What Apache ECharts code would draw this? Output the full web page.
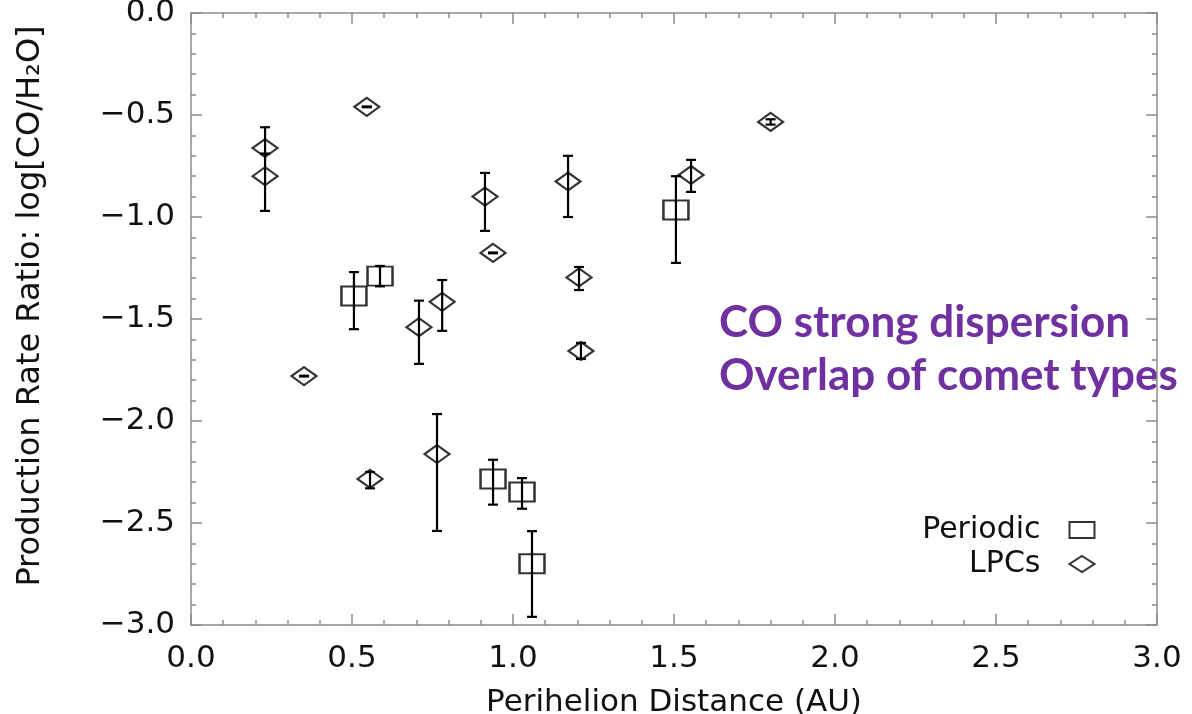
<!DOCTYPE html>
<html>
<head>
<meta charset="utf-8">
<title>CO/H2O production rate ratio vs perihelion distance</title>
<script src="https://cdn.jsdelivr.net/npm/echarts@6/dist/echarts.min.js"></script>
<style>
  html, body { margin: 0; padding: 0; background: #fff; }
  #chart { width: 1192px; height: 714px; }
</style>
</head>
<body>
<div id="chart"></div>
<script>
// Periodic comets (squares): perihelion distance, log ratio, error bar low / high
const periodicX    = [0.506, 0.587, 0.938, 1.028, 1.059, 1.506];
const periodicY    = [-1.387, -1.29, -2.284, -2.348, -2.70, -0.966];
const periodicLow  = [-1.55, -1.34, -2.41, -2.43, -2.96, -1.225];
const periodicHigh = [-1.27, -1.24, -2.19, -2.28, -2.54, -0.80];

// Long period comets (diamonds)
const lpcX    = [0.23, 0.23, 0.546, 0.351, 0.556, 0.708, 0.78, 0.764, 0.913, 0.938, 1.171, 1.205, 1.211, 1.553, 1.80];
const lpcY    = [-0.662, -0.80, -0.46, -1.78, -2.284, -1.54, -1.416, -2.162, -0.90, -1.176, -0.826, -1.296, -1.657, -0.794, -0.534];
const lpcLow  = [-0.69, -0.97, -0.462, -1.782, -2.33, -1.72, -1.558, -2.539, -1.068, -1.178, -1.00, -1.358, -1.696, -0.877, -0.547];
const lpcHigh = [-0.56, -0.69, -0.458, -1.778, -2.25, -1.41, -1.309, -1.966, -0.784, -1.174, -0.70, -1.245, -1.617, -0.72, -0.521];

const seriesNames = ['Periodic', 'LPCs'];
const noteLines = ['CO strong dispersion', 'Overlap of comet types'];

const axisFont = 'DejaVu Sans';
const frameColor = '#8c8c8c';

function points(xs, ys) {
    return xs.map((x, i) => [x, ys[i]]);
}
function bars(xs, lo, hi) {
    return xs.map((x, i) => [x, lo[i], hi[i]]);
}

// draws a vertical error bar with small caps
function renderErrorBar(params, api) {
    const top = api.coord([api.value(0), api.value(2)]);
    const bottom = api.coord([api.value(0), api.value(1)]);
    const cap = 5;
    const style = { stroke: '#000', lineWidth: 2.2 };
    return {
        type: 'group',
        children: [
            { type: 'line', shape: { x1: top[0], y1: top[1], x2: bottom[0], y2: bottom[1] }, style: style },
            { type: 'line', shape: { x1: top[0] - cap, y1: top[1], x2: top[0] + cap, y2: top[1] }, style: style },
            { type: 'line', shape: { x1: bottom[0] - cap, y1: bottom[1], x2: bottom[0] + cap, y2: bottom[1] }, style: style }
        ]
    };
}

function yLabel(v) {
    if (Math.abs(v) < 1e-9) return '0.0';
    return '\u2212' + Math.abs(v).toFixed(1);
}

// ticks point into the plot on all four sides
const tickStyle = { show: true, inside: true, length: 11, lineStyle: { color: frameColor, width: 1.5 } };
const minorStyle = { show: true, splitNumber: 5, length: 5, lineStyle: { color: frameColor, width: 1.5 } };
const lineStyle = { show: true, onZero: false, lineStyle: { color: frameColor, width: 1.5 } };

const chart = echarts.init(document.getElementById('chart'), null, { renderer: 'canvas' });

const options = {
    animation: false,
    backgroundColor: '#fff',
    grid: { left: 191, top: 13, right: 35, bottom: 89, outerBoundsMode: 'none' },
    legend: {
        data: seriesNames,
        orient: 'vertical',
        align: 'right',
        right: 90,
        top: 510,
        itemWidth: 25,
        itemHeight: 16,
        itemGap: 4,
        textStyle: { fontFamily: axisFont, fontSize: 30, color: '#111', padding: [0, 24, 0, 0] }
    },
    xAxis: [
        {
            type: 'value', min: 0, max: 3, interval: 0.5, position: 'bottom',
            name: 'Perihelion Distance (AU)', nameLocation: 'middle', nameGap: 62,
            nameTextStyle: { fontFamily: axisFont, fontSize: 31, color: '#111' },
            axisLine: lineStyle, axisTick: tickStyle, minorTick: minorStyle,
            splitLine: { show: false },
            axisLabel: { fontFamily: axisFont, fontSize: 31, color: '#111', margin: 18, formatter: v => v.toFixed(1) }
        },
        {
            type: 'value', min: 0, max: 3, interval: 0.5, position: 'top',
            axisLine: lineStyle, axisTick: tickStyle, minorTick: minorStyle,
            splitLine: { show: false }, axisLabel: { show: false }
        }
    ],
    yAxis: [
        {
            type: 'value', min: -3, max: 0, interval: 0.5, position: 'left',
            name: 'Production Rate Ratio: log[CO/H\u2082O]', nameLocation: 'middle', nameGap: 144,
            nameTextStyle: { fontFamily: axisFont, fontSize: 32, color: '#111', padding: [0, 0, 0, 26] },
            axisLine: lineStyle, axisTick: tickStyle, minorTick: minorStyle,
            splitLine: { show: false },
            axisLabel: { fontFamily: axisFont, fontSize: 31, color: '#111', margin: 16, formatter: yLabel }
        },
        {
            type: 'value', min: -3, max: 0, interval: 0.5, position: 'right',
            axisLine: lineStyle, axisTick: tickStyle, minorTick: minorStyle,
            splitLine: { show: false }, axisLabel: { show: false }
        }
    ],
    graphic: [
        {
            type: 'text', left: 719, top: 296,
            style: {
                text: noteLines.join('\n'),
                fontFamily: 'Lato', fontWeight: 'bold', fontSize: 44, lineHeight: 53,
                fill: '#7030A0'
            }
        }
    ],
    series: [
        {
            name: 'Periodic', type: 'scatter', symbol: 'rect', symbolSize: [25, 19],
            itemStyle: { color: 'none', borderColor: '#000', borderWidth: 2.2 },
            data: points(periodicX, periodicY), z: 3
        },
        {
            name: 'LPCs', type: 'scatter', symbol: 'diamond', symbolSize: [25, 18],
            itemStyle: { color: 'none', borderColor: '#000', borderWidth: 2.2 },
            data: points(lpcX, lpcY), z: 3
        },
        {
            name: 'Periodic errors', type: 'custom', renderItem: renderErrorBar,
            encode: { x: 0, y: [1, 2] }, data: bars(periodicX, periodicLow, periodicHigh), z: 2
        },
        {
            name: 'LPC errors', type: 'custom', renderItem: renderErrorBar,
            encode: { x: 0, y: [1, 2] }, data: bars(lpcX, lpcLow, lpcHigh), z: 2
        }
    ]
};

chart.setOption(options);
</script>
</body>
</html>
